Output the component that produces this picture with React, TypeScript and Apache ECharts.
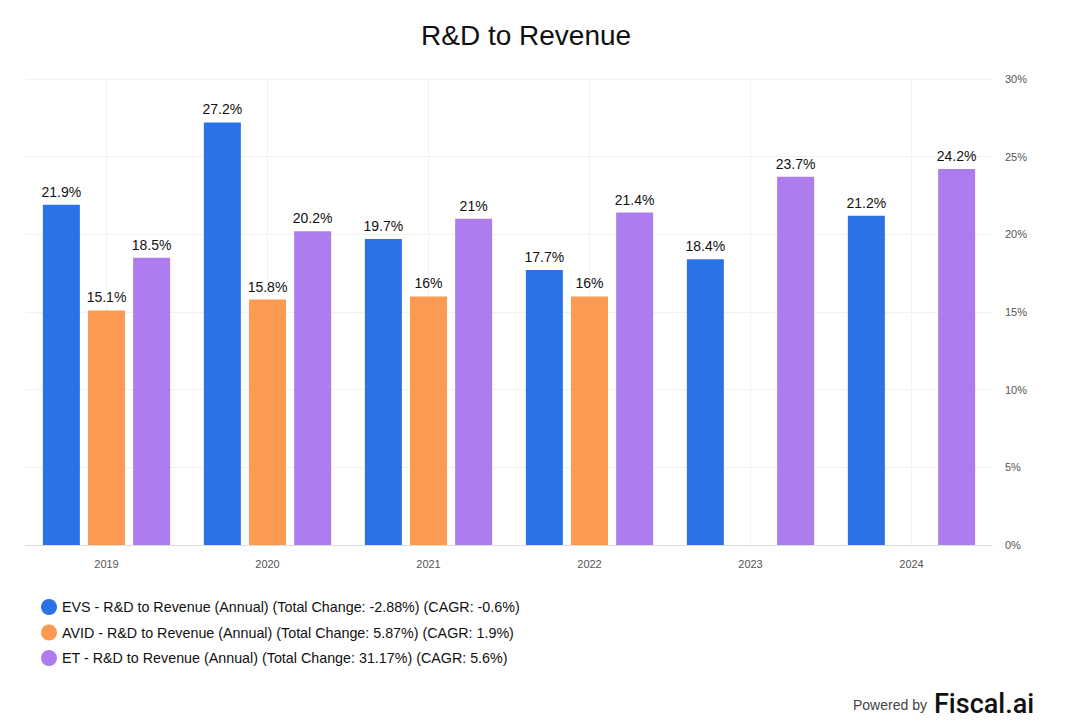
import React, { useEffect, useRef } from "react";
import * as echarts from "echarts";

const years = ["2019", "2020", "2021", "2022", "2023", "2024"];
const evs = [21.9, 27.2, 19.7, 17.7, 18.4, 21.2];
const avid: (number | null)[] = [15.1, 15.8, 16, 16, null, null];
const et = [18.5, 20.2, 21, 21.4, 23.7, 24.2];
const seriesNames = [
  "EVS - R&D to Revenue (Annual) (Total Change: -2.88%) (CAGR: -0.6%)",
  "AVID - R&D to Revenue (Annual) (Total Change: 5.87%) (CAGR: 1.9%)",
  "ET - R&D to Revenue (Annual) (Total Change: 31.17%) (CAGR: 5.6%)",
];
const colors = ["#2a72e5", "#fd9a52", "#ad7def"];

const FONT = "'Liberation Sans', Arial, Helvetica, sans-serif";

export default function App() {
  const ref = useRef<HTMLDivElement>(null);
  useEffect(() => {
    if (!ref.current) return;
    const chart = echarts.init(ref.current, null, { renderer: "svg" });
    const mk = (name: string, data: (number | null)[], color: string) => ({
      name,
      type: "bar",
      data,
      barWidth: 37,
      barGap: "22%",
      itemStyle: { color },
      label: {
        show: true,
        position: "top",
        distance: 6,
        color: "#111",
        fontSize: 14,
        fontFamily: FONT,
        formatter: (p: any) => `${p.value}%`,
      },
    });
    chart.setOption({
      animation: false,
      textStyle: { fontFamily: FONT },
      title: {
        text: "R&D to Revenue",
        left: 416,
        top: 16,
        textStyle: { fontSize: 28, fontWeight: "normal", color: "#111", fontFamily: FONT },
      },
      grid: { left: 26, right: 90, top: 79, bottom: 181, containLabel: false },
      legend: {
        orient: "vertical",
        left: 36,
        top: 594,
        icon: "circle",
        itemWidth: 16,
        itemHeight: 16,
        itemGap: 9.5,
        textStyle: { fontSize: 14.3, color: "#111", fontFamily: FONT },
        data: seriesNames,
      },
      xAxis: {
        type: "category",
        data: years,
        axisLine: { lineStyle: { color: "#ddd" } },
        axisTick: { alignWithLabel: true, length: 6, lineStyle: { color: "#333" } },
        axisLabel: { color: "#555", fontSize: 11, margin: 13, fontFamily: FONT },
        splitLine: { show: true, alignWithLabel: true, lineStyle: { color: "#f3f3f3" } } as any,
      },
      yAxis: {
        type: "value",
        position: "right",
        min: 0,
        max: 30,
        interval: 5,
        axisLine: { show: false },
        axisTick: { show: false },
        axisLabel: { color: "#555", fontSize: 11, margin: 13, fontFamily: FONT, formatter: "{value}%" },
        splitLine: { lineStyle: { color: "#f1f1f1" } },
      },
      series: [mk(seriesNames[0], evs, colors[0]), mk(seriesNames[1], avid, colors[1]), mk(seriesNames[2], et, colors[2])],
      graphic: [
        {
          type: "text",
          left: 853,
          top: 698,
          style: { text: "Powered by", fontSize: 14, fill: "#444", fontFamily: FONT },
        },
        {
          type: "text",
          left: 934,
          top: 690,
          style: { text: "Fiscal.ai", fontSize: 27, fill: "#111", fontFamily: "Roboto, 'Liberation Sans', sans-serif", fontWeight: 500 },
        },
      ],
    });
    return () => chart.dispose();
  }, []);
  return <div ref={ref} style={{ width: 1082, height: 726, margin: -8 }} />;
}
